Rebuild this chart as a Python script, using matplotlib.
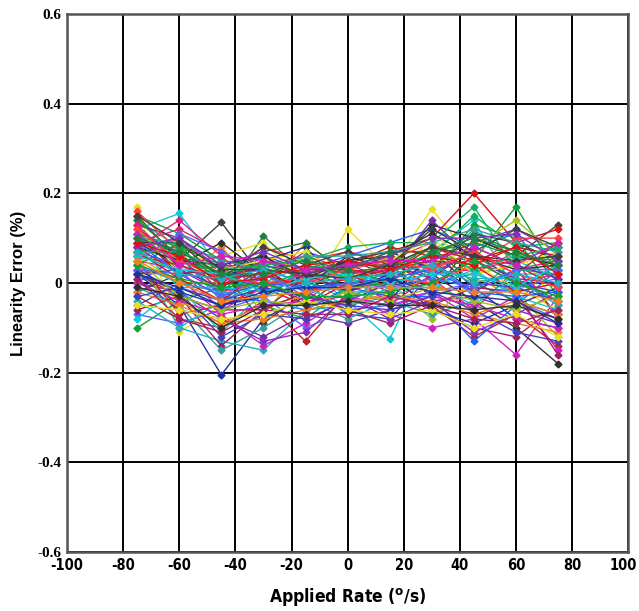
import matplotlib
matplotlib.use("Agg")
import matplotlib.pyplot as plt
from matplotlib.transforms import ScaledTranslation

plt.rcParams["axes.unicode_minus"] = False

rates = [-75, -60, -45, -30, -15, 0, 15, 30, 45, 60, 75]

dev01 = [0.17, -0.11, -0.05, 0.02, -0.03, 0.12, 0.03, 0.165, 0.05, 0.08, -0.05]
dev02 = [0.12, 0.155, 0.03, -0.02, 0.01, -0.04, -0.125, 0.07, 0.14, -0.02, 0.04]
dev03 = [0.15, 0.05, 0.135, 0.01, -0.05, 0.02, 0.04, -0.03, 0.10, 0.06, 0.13]
dev04 = [0.02, -0.05, -0.205, -0.08, -0.03, -0.06, 0.01, 0.05, -0.02, 0.03, -0.07]
dev05 = [0.08, 0.02, 0.01, 0.04, 0.06, 0.03, 0.07, 0.10, 0.20, 0.09, 0.12]
dev06 = [-0.10, -0.04, -0.01, 0.05, 0.02, -0.02, 0.03, 0.06, 0.05, 0.17, 0.02]
dev07 = [0.05, 0.03, -0.06, -0.01, 0.02, 0.01, -0.04, -0.02, -0.08, -0.16, -0.03]
dev08 = [0.10, 0.07, 0.02, 0.03, -0.02, 0.04, 0.05, 0.02, -0.04, -0.10, -0.18]
dev09 = [0.06, -0.10, -0.13, -0.15, -0.06, -0.05, -0.03, 0.00, 0.02, 0.04, 0.01]
dev10 = [0.04, 0.09, -0.03, 0.105, 0.02, 0.05, 0.03, 0.08, 0.06, 0.01, -0.04]
dev11 = [0.13, 0.01, 0.08, -0.02, 0.09, 0.02, -0.01, 0.04, 0.03, -0.05, 0.06]
dev12 = [-0.03, -0.08, -0.10, -0.04, -0.13, -0.02, 0.01, -0.05, -0.12, -0.07, -0.14]
dev13 = [0.07, 0.04, 0.00, 0.06, 0.03, 0.06, 0.09, 0.12, 0.08, 0.11, 0.00]
dev14 = [0.00, -0.02, -0.08, -0.12, -0.07, -0.09, -0.06, -0.04, -0.03, -0.06, -0.09]
dev15 = [0.11, 0.06, -0.04, 0.02, -0.01, 0.00, 0.02, 0.03, 0.12, 0.05, 0.08]
dev16 = [0.03, -0.06, 0.05, -0.07, 0.04, -0.03, 0.00, -0.08, 0.01, -0.02, -0.12]
dev17 = [0.09, 0.12, 0.07, 0.00, -0.04, 0.03, 0.06, 0.01, -0.06, 0.03, 0.05]
dev18 = [-0.05, 0.00, -0.02, 0.03, 0.00, -0.07, -0.08, 0.02, 0.07, 0.00, -0.02]
dev19 = [0.14, 0.08, 0.04, -0.05, -0.08, -0.01, 0.04, 0.06, 0.15, 0.08, 0.09]
dev20 = [0.02, -0.03, -0.14, -0.06, 0.01, 0.02, -0.02, -0.06, -0.10, -0.12, -0.05]
dev21 = [0.06, 0.10, 0.02, 0.08, 0.05, 0.07, 0.05, 0.09, 0.02, 0.07, 0.03]
dev22 = [-0.07, -0.09, -0.06, -0.03, -0.10, -0.06, -0.05, -0.02, 0.00, -0.04, -0.08]
dev23 = [0.10, 0.03, -0.02, 0.01, 0.07, 0.04, 0.01, 0.05, 0.09, 0.12, 0.07]
dev24 = [0.01, 0.05, 0.06, 0.09, 0.00, 0.01, -0.03, 0.11, 0.04, -0.01, -0.06]
dev25 = [0.08, -0.01, -0.11, -0.02, 0.03, -0.04, 0.02, 0.00, -0.05, 0.02, 0.02]
dev26 = [-0.02, 0.02, 0.03, -0.09, -0.02, 0.05, 0.07, 0.03, 0.11, 0.09, 0.05]
dev27 = [0.12, 0.06, 0.01, 0.05, 0.08, -0.02, -0.04, 0.07, -0.01, -0.08, -0.10]
dev28 = [0.05, -0.07, -0.05, -0.01, -0.05, 0.00, 0.05, -0.01, 0.06, 0.04, -0.01]
dev29 = [0.15, 0.11, 0.05, 0.04, 0.01, 0.03, 0.00, 0.02, 0.13, 0.10, -0.03]
dev30 = [0.03, 0.01, -0.07, -0.14, -0.09, -0.03, -0.07, -0.10, -0.08, -0.03, -0.15]
dev31 = [0.09, 0.04, 0.09, 0.02, -0.01, 0.06, 0.03, 0.13, 0.10, 0.06, 0.04]
dev32 = [-0.04, -0.10, -0.04, 0.00, 0.04, 0.01, -0.01, 0.04, -0.02, 0.05, 0.01]
dev33 = [0.07, 0.08, -0.01, 0.07, 0.09, 0.02, 0.04, 0.08, 0.00, -0.04, -0.07]
dev34 = [0.04, -0.04, -0.09, -0.05, -0.03, -0.05, -0.02, 0.01, -0.07, -0.09, -0.11]
dev35 = [0.11, 0.02, 0.04, 0.03, 0.02, 0.04, 0.08, 0.06, 0.07, 0.02, 0.09]
dev36 = [0.00, 0.06, -0.03, -0.04, -0.06, -0.01, -0.03, -0.03, -0.13, -0.05, 0.03]
dev37 = [0.13, 0.10, 0.03, 0.06, 0.00, 0.05, 0.02, 0.14, 0.05, 0.01, 0.00]
dev38 = [-0.01, -0.05, -0.15, -0.10, -0.04, -0.08, -0.04, -0.07, -0.04, 0.00, -0.04]
dev39 = [0.06, 0.00, 0.00, 0.01, 0.06, 0.00, 0.06, 0.04, 0.08, 0.14, 0.06]
dev40 = [0.08, 0.14, 0.06, -0.03, 0.03, 0.03, -0.05, 0.02, 0.03, 0.05, -0.08]
dev41 = [0.02, -0.02, -0.12, -0.07, -0.08, -0.04, 0.00, -0.02, -0.06, -0.11, -0.13]
dev42 = [0.10, 0.05, 0.02, 0.04, 0.05, 0.08, 0.09, 0.09, 0.17, 0.03, 0.02]
dev43 = [-0.06, -0.03, -0.06, -0.06, -0.02, -0.06, -0.09, -0.05, -0.01, -0.02, -0.16]
dev44 = [0.16, 0.07, -0.02, 0.00, 0.01, -0.01, 0.01, 0.00, 0.04, 0.10, 0.10]
dev45 = [0.05, 0.11, 0.07, 0.02, -0.03, 0.02, 0.03, 0.05, -0.03, -0.01, 0.01]
dev46 = [0.01, -0.06, -0.08, -0.13, -0.11, -0.03, -0.08, -0.04, -0.11, -0.07, -0.02]
dev47 = [0.12, 0.03, 0.03, 0.05, 0.07, 0.01, 0.05, 0.10, 0.02, 0.04, 0.07]
dev48 = [-0.08, -0.01, -0.01, -0.02, -0.01, -0.05, -0.01, -0.01, 0.03, -0.03, -0.06]
dev49 = [0.09, 0.09, 0.01, 0.08, 0.04, 0.07, 0.04, 0.12, 0.07, 0.12, 0.08]
dev50 = [0.03, -0.02, -0.05, -0.03, 0.02, -0.02, 0.02, -0.06, -0.09, -0.05, -0.01]
dev51 = [0.07, 0.01, -0.04, 0.03, -0.02, 0.01, 0.03, 0.05, 0.04, -0.02, 0.00]
dev52 = [0.11, 0.08, 0.00, -0.01, 0.03, -0.01, 0.00, 0.07, 0.09, 0.06, 0.05]
dev53 = [0.00, -0.04, -0.07, -0.05, -0.04, -0.03, -0.05, -0.03, -0.05, -0.08, -0.10]
dev54 = [0.08, 0.05, 0.04, 0.06, 0.01, 0.05, 0.06, 0.11, 0.06, 0.03, 0.04]
dev55 = [0.04, 0.00, -0.02, -0.03, 0.00, -0.02, -0.02, 0.03, 0.01, 0.01, -0.05]
dev56 = [0.14, 0.06, 0.02, 0.01, 0.04, 0.02, 0.04, 0.06, 0.11, 0.07, 0.03]
dev57 = [-0.02, -0.05, -0.09, -0.08, -0.06, -0.04, -0.03, -0.04, -0.07, -0.04, -0.07]
dev58 = [0.06, 0.04, 0.01, 0.02, 0.03, 0.03, 0.02, 0.08, 0.05, 0.08, 0.06]
dev59 = [0.09, 0.02, -0.03, 0.00, -0.01, 0.00, 0.01, 0.03, -0.02, -0.03, -0.02]
dev60 = [0.02, 0.03, -0.01, 0.04, 0.02, 0.04, 0.04, 0.01, 0.08, 0.04, 0.01]
dev61 = [0.10, 0.09, 0.05, 0.03, 0.06, 0.06, 0.07, 0.09, 0.12, 0.09, 0.07]
dev62 = [0.05, -0.03, -0.06, -0.04, -0.05, -0.02, -0.04, -0.01, -0.04, -0.06, -0.03]
dev63 = [0.13, 0.04, 0.00, 0.05, 0.01, 0.02, 0.03, 0.04, 0.05, 0.00, 0.02]
dev64 = [-0.03, -0.01, -0.04, -0.01, -0.03, -0.05, -0.06, -0.03, 0.00, -0.01, -0.04]
dev65 = [0.07, 0.07, 0.03, 0.04, 0.05, 0.01, 0.02, 0.07, 0.03, 0.06, 0.08]
dev66 = [0.01, -0.08, -0.11, -0.06, -0.07, -0.07, -0.03, -0.05, -0.08, -0.09, -0.06]
dev67 = [0.12, 0.05, 0.01, 0.00, 0.00, 0.03, 0.05, 0.03, 0.07, 0.02, -0.01]
dev68 = [0.03, 0.02, -0.03, 0.02, -0.02, 0.00, -0.01, 0.01, -0.01, 0.03, 0.03]
dev69 = [0.08, 0.10, 0.04, 0.07, 0.03, 0.04, 0.06, 0.10, 0.10, 0.11, 0.05]
dev70 = [-0.05, -0.06, -0.08, -0.07, -0.04, -0.06, -0.07, -0.06, -0.10, -0.07, -0.12]
dev71 = [0.06, 0.03, 0.02, -0.02, 0.01, 0.02, 0.00, 0.02, 0.02, -0.01, 0.04]
dev72 = [0.15, 0.09, 0.03, 0.03, 0.02, 0.01, 0.04, 0.08, 0.06, 0.05, 0.06]
dev73 = [0.02, -0.01, -0.05, -0.02, -0.01, -0.01, 0.01, -0.02, -0.03, -0.04, -0.09]
dev74 = [0.09, 0.06, 0.00, 0.01, 0.04, 0.05, 0.03, 0.06, 0.04, 0.08, 0.02]
dev75 = [0.04, 0.01, -0.01, 0.00, -0.03, -0.03, -0.02, 0.00, 0.05, 0.00, -0.03]
dev76 = [0.11, 0.04, 0.06, 0.05, 0.03, 0.04, 0.05, 0.05, 0.08, 0.04, 0.09]
dev77 = [-0.01, -0.03, -0.10, -0.05, -0.05, -0.04, -0.05, -0.05, -0.06, -0.05, -0.08]
dev78 = [0.07, 0.02, 0.01, 0.03, 0.00, 0.01, 0.02, 0.04, 0.00, 0.02, 0.00]
dev79 = [0.10, 0.07, 0.02, 0.02, 0.05, 0.03, 0.07, 0.07, 0.10, 0.07, 0.04]
dev80 = [0.05, 0.00, -0.04, -0.03, -0.02, -0.01, -0.01, -0.01, -0.02, -0.02, -0.04]

devices = [dev01, dev02, dev03, dev04, dev05, dev06, dev07, dev08, dev09, dev10,
           dev11, dev12, dev13, dev14, dev15, dev16, dev17, dev18, dev19, dev20,
           dev21, dev22, dev23, dev24, dev25, dev26, dev27, dev28, dev29, dev30,
           dev31, dev32, dev33, dev34, dev35, dev36, dev37, dev38, dev39, dev40,
           dev41, dev42, dev43, dev44, dev45, dev46, dev47, dev48, dev49, dev50,
           dev51, dev52, dev53, dev54, dev55, dev56, dev57, dev58, dev59, dev60,
           dev61, dev62, dev63, dev64, dev65, dev66, dev67, dev68, dev69, dev70,
           dev71, dev72, dev73, dev74, dev75, dev76, dev77, dev78, dev79, dev80]

colors = ["#e8e020", "#10c8d8", "#404040", "#2030a0", "#e01010", "#10a030",
          "#d020c0", "#303030", "#20b0c0", "#208040", "#f08020", "#c02020",
          "#2060ff", "#7030a0", "#30a0a0", "#a0c020", "#e02080", "#4040c0",
          "#10b060", "#a02060", "#ff4040", "#6060ff", "#8030c0"]

fig = plt.figure(figsize=(6.39, 6.11), dpi=100)
ax = fig.add_axes([0.105, 0.0966, 0.878, 0.8805])

for i, vals in enumerate(devices):
    c = colors[i % len(colors)]
    ax.plot(rates, vals, color=c, lw=1.0, marker="D", ms=3.5, mec=c, mfc=c, zorder=3)

ax.set_xlim(-100, 100)
ax.set_ylim(-0.6, 0.6)
ax.set_xticks(range(-100, 101, 20))
ax.set_yticks([-0.6, -0.4, -0.2, 0, 0.2, 0.4, 0.6])
ax.set_yticklabels(["-0.6", "-0.4", "-0.2", "0", "0.2", "0.4", "0.6"])
ax.grid(True, color="black", lw=1.4, zorder=1)
ax.set_axisbelow(True)
for s in ax.spines.values():
    s.set_color("#555555")
    s.set_linewidth(1.8)
ax.tick_params(length=0, pad=4)
for t in ax.get_xticklabels():
    t.set_fontfamily("DejaVu Sans")
    t.set_fontstretch("condensed")
    t.set_fontweight("bold")
    t.set_fontsize(10.5)
for t in ax.get_yticklabels():
    t.set_fontfamily("Liberation Serif")
    t.set_fontweight("bold")
    t.set_fontsize(11)

# keep the last x label inside the canvas
last = ax.get_xticklabels()[-1]
last.set_ha("right")
last.set_transform(last.get_transform() + ScaledTranslation(0.09, 0, fig.dpi_scale_trans))

ax.set_xlabel(r"Applied Rate ($^{\mathbf{o}}$/s)", fontfamily="DejaVu Sans",
              fontstretch="condensed", fontweight="bold", fontsize=12.5, labelpad=10)
ax.set_ylabel("Linearity Error (%)", fontfamily="Liberation Sans",
              fontweight="bold", fontsize=12, labelpad=8)

fig.savefig("out.png", dpi=100)
